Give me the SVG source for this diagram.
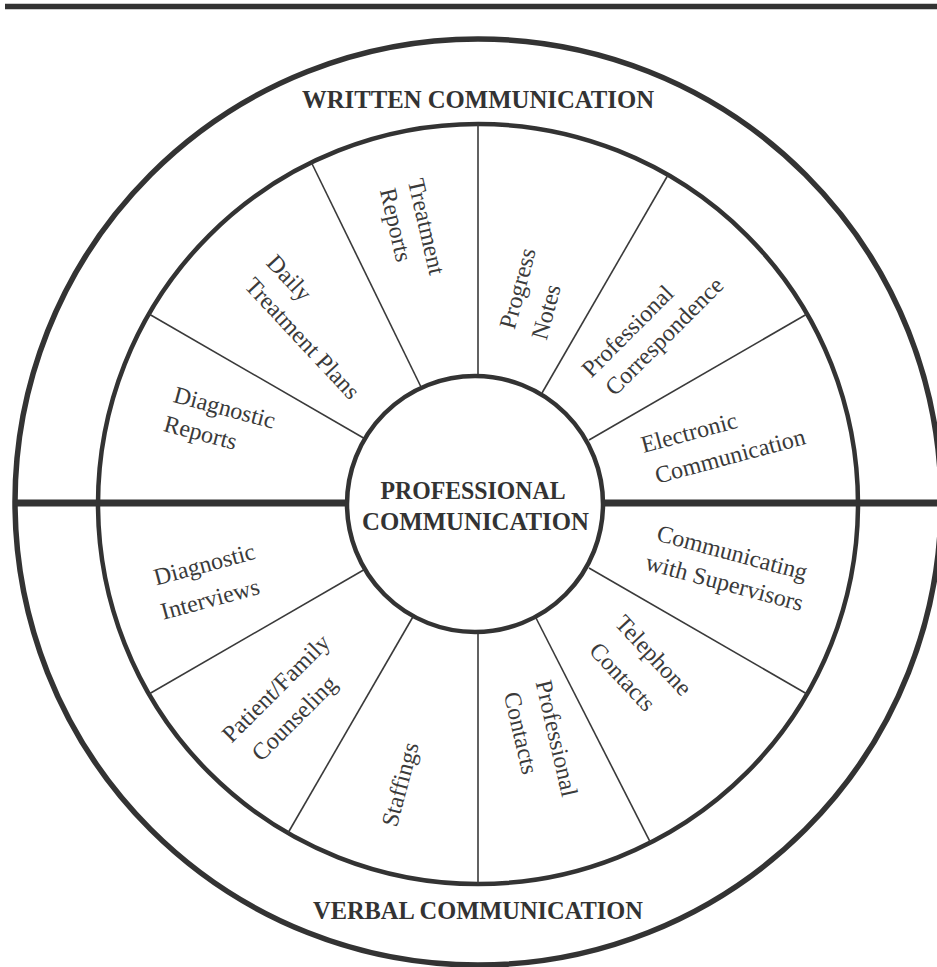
<svg xmlns="http://www.w3.org/2000/svg" width="937" height="967" viewBox="0 0 937 967">
<style>
.ring{fill:none;stroke:#333;}
.div{stroke:#3a3a3a;stroke-width:1.6;}
.lbl{font-family:"Liberation Serif","DejaVu Serif",serif;font-size:24px;fill:#3a3a3a;text-anchor:middle;}
.ttl{font-family:"Liberation Serif","DejaVu Serif",serif;font-weight:bold;fill:#333;text-anchor:middle;}
</style>
<rect width="937" height="967" fill="#fff"/>
<line x1="5" y1="6.5" x2="937" y2="6.5" stroke="#333" stroke-width="5.5"/>
<g id="rings">
<circle class="ring" cx="478" cy="502" r="463" stroke-width="5.5"/>
<circle class="ring" cx="478" cy="504" r="380" stroke-width="4.5"/>
<line x1="14" y1="503" x2="937" y2="503" stroke="#333" stroke-width="7"/>
</g>
<g id="connectors">
<line class="div" x1="807" y1="314" x2="589" y2="440"/>
<line class="div" x1="668" y1="175" x2="542" y2="393"/>
<line class="div" x1="478" y1="124" x2="478" y2="376"/>
<line class="div" x1="311.4" y1="162.5" x2="422" y2="389"/>
<line class="div" x1="149" y1="314" x2="367" y2="440"/>
<line class="div" x1="149" y1="694" x2="367" y2="568"/>
<line class="div" x1="288" y1="833" x2="414" y2="615"/>
<line class="div" x1="478" y1="632" x2="478" y2="884"/>
<line class="div" x1="650.5" y1="842.6" x2="536" y2="618"/>
<line class="div" x1="807" y1="694" x2="589" y2="568"/>
</g>
<g id="center">
<circle cx="475" cy="504" r="128" fill="#fff" stroke="#333" stroke-width="4.5"/>
<text class="ttl" x="473" y="499" font-size="26" textLength="185" lengthAdjust="spacingAndGlyphs">PROFESSIONAL</text>
<text class="ttl" x="475.5" y="530" font-size="26" textLength="227" lengthAdjust="spacingAndGlyphs">COMMUNICATION</text>
</g>
<g id="written-title">
<text class="ttl" x="478" y="108" font-size="26" textLength="352" lengthAdjust="spacingAndGlyphs">WRITTEN COMMUNICATION</text>
</g>
<g id="verbal-title">
<text class="ttl" x="478" y="919" font-size="25" textLength="330" lengthAdjust="spacingAndGlyphs">VERBAL COMMUNICATION</text>
</g>
<g id="treatment-reports">
<text class="lbl" transform="translate(426.5,226.5) rotate(77)" y="8">Treatment</text>
<text class="lbl" transform="translate(393.5,225.5) rotate(77)" y="5.5">Reports</text>
</g>
<g id="daily-treatment-plans">
<text class="lbl" transform="translate(287.5,279.5) rotate(47)" y="5.5">Daily</text>
<text class="lbl" transform="translate(302.5,338.3) rotate(47)" y="8">Treatment Plans</text>
</g>
<g id="diagnostic-reports">
<text class="lbl" transform="translate(224,410) rotate(15)" y="5.5">Diagnostic</text>
<text class="lbl" transform="translate(200,435) rotate(15)" y="5.5">Reports</text>
</g>
<g id="progress-notes">
<text class="lbl" transform="translate(520,289) rotate(-75)" y="5.5">Progress</text>
<text class="lbl" transform="translate(546,312) rotate(-75)" y="8">Notes</text>
</g>
<g id="professional-correspondence">
<text class="lbl" transform="translate(627.5,331) rotate(-45)" y="8">Professional</text>
<text class="lbl" transform="translate(666,338) rotate(-45)" y="5.5">Correspondence</text>
</g>
<g id="electronic-communication">
<text class="lbl" transform="translate(689,432.5) rotate(-15)" y="8">Electronic</text>
<text class="lbl" transform="translate(730,456) rotate(-15)" y="8">Communication</text>
</g>
<g id="communicating-supervisors">
<text class="lbl" transform="translate(731.7,555) rotate(15)" y="5.5">Communicating</text>
<text class="lbl" transform="translate(724,585) rotate(15)" y="5.5">with Supervisors</text>
</g>
<g id="telephone-contacts">
<text class="lbl" transform="translate(651.7,657) rotate(47)" y="5.5">Telephone</text>
<text class="lbl" transform="translate(622.5,676.7) rotate(47)" y="8">Contacts</text>
</g>
<g id="professional-contacts">
<text class="lbl" transform="translate(556.7,738.3) rotate(77)" y="8">Professional</text>
<text class="lbl" transform="translate(521,733) rotate(77)" y="8">Contacts</text>
</g>
<g id="staffings">
<text class="lbl" transform="translate(402.5,785) rotate(-75)" y="5.5">Staffings</text>
</g>
<g id="patient-family-counseling">
<text class="lbl" transform="translate(277.5,690) rotate(-45)" y="5.5">Patient/Family</text>
<text class="lbl" transform="translate(296,720) rotate(-45)" y="5.5">Counseling</text>
</g>
<g id="diagnostic-interviews">
<text class="lbl" transform="translate(205,566.7) rotate(-15)" y="5.5">Diagnostic</text>
<text class="lbl" transform="translate(210,599) rotate(-15)" y="8">Interviews</text>
</g>
</svg>
